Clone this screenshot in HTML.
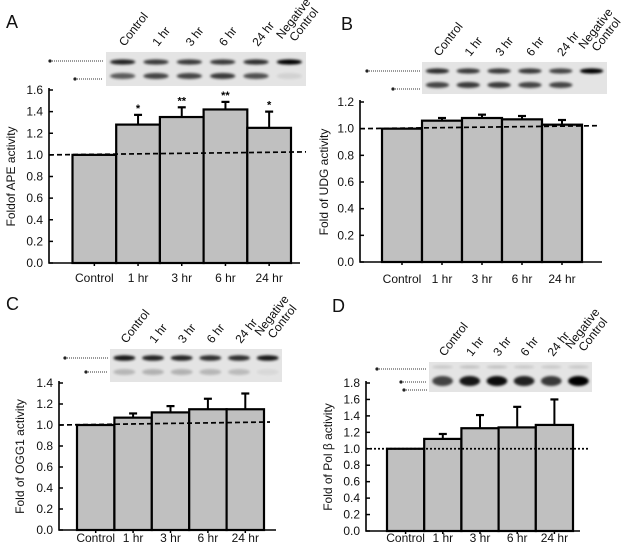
<!DOCTYPE html>
<html><head><meta charset="utf-8"><style>
html,body{margin:0;padding:0;background:#fff}
svg{display:block;font-family:"Liberation Sans",Arial,sans-serif}
</style></head><body>
<svg id="fig" width="628" height="556" viewBox="0 0 628 556">
<defs><filter id="blur" x="-50%" y="-100%" width="200%" height="300%"><feGaussianBlur stdDeviation="1.3"/></filter></defs>
</svg>
<script>
const categories = ["Control","1 hr","3 hr","6 hr","24 hr"];
const laneLabels = ["Control","1 hr","3 hr","6 hr","24 hr","Negative\nControl"];
const apeValues = [1, 1.28, 1.35, 1.42, 1.25];
const apeErrors = [0, 0.09, 0.09, 0.07, 0.15];
const apeStars = ["", "*", "**", "**", "*"];
const udgValues = [1, 1.06, 1.08, 1.07, 1.03];
const udgErrors = [0, 0.02, 0.025, 0.025, 0.035];
const oggValues = [1, 1.07, 1.12, 1.15, 1.15];
const oggErrors = [0, 0.04, 0.06, 0.10, 0.15];
const polValues = [1, 1.12, 1.25, 1.26, 1.29];
const polErrors = [0, 0.06, 0.16, 0.25, 0.31];
const apeTicks = [0,0.2,0.4,0.6,0.8,1.0,1.2,1.4,1.6];
const udgTicks = [0,0.2,0.4,0.6,0.8,1.0,1.2];
const oggTicks = [0,0.2,0.4,0.6,0.8,1.0,1.2,1.4];
const polTicks = [0,0.2,0.4,0.6,0.8,1.0,1.2,1.4,1.6,1.8];

const NS="http://www.w3.org/2000/svg";
const svg=document.getElementById('fig');
function mk(tag,attrs,parent){const e=document.createElementNS(NS,tag);for(const k in attrs)e.setAttribute(k,attrs[k]);(parent||svg).appendChild(e);return e;}

function panel(p){
  const g=mk('g',{});
  
  
  const yMax=p.ticks[p.ticks.length-1];
  const yS=v=>p.y0-(v/yMax)*(p.y0-p.yTop);
  const xS=i=>p.bx0+i*p.bw;
  const L=mk('text',{x:p.lx,y:p.ly,'font-size':18,fill:'#111'},g);L.textContent=p.letter;
  
  
  const gel=mk('g',{},g);
  
  
  mk('rect',{x:p.gx,y:p.gy,width:p.gw,height:p.gh,fill:'#e4e4e4'},gel);
  const lw=p.gw/6;
  for(let i=0;i<6;i++){
    const cx=p.gx+lw*(i+0.5);
    p.bands.forEach(b=>{
      const op=b.op[i];
      if(op>0) mk('ellipse',{cx:cx,cy:p.gy+b.dy,rx:lw*0.38,ry:b.ry,fill:'#000',opacity:op,filter:'url(#blur)'},gel);
    });
    const parts=laneLabels[i].split('\n');
    const t=mk('text',{transform:`translate(${cx+2},${p.gy-5}) rotate(-52)`,'font-size':12,fill:'#111'},g);
    if(parts.length>1){
      const a=mk('tspan',{x:0,dy:-12},t);a.textContent=parts[0];
      const b2=mk('tspan',{x:6,dy:12},t);b2.textContent=parts[1];
    } else t.textContent=parts[0];
    
    
  }
  p.markers.forEach(m=>{
    mk('line',{x1:m.x1,y1:m.y,x2:m.x2,y2:m.y,stroke:'#999','stroke-width':2,'stroke-dasharray':'1 1'},g);
    mk('circle',{cx:m.x1,cy:m.y,r:1.6,fill:'#222'},g);
  });
  p.values.forEach((v,i)=>{
    const x=xS(i),y=yS(v);
    const r=mk('rect',{x:x,y:y,width:p.bw,height:p.y0-y,fill:'#c0c0c0',stroke:'#000','stroke-width':2.2},g);
    
    
    const e=p.errors[i];
    if(e>0){
      const cx=x+p.bw/2,ye=yS(v+e);
      mk('line',{x1:cx,y1:y,x2:cx,y2:ye,stroke:'#000','stroke-width':2},g);
      mk('line',{x1:cx-4,y1:ye,x2:cx+4,y2:ye,stroke:'#000','stroke-width':2.2},g);
      if(p.stars&&p.stars[i]){const s=mk('text',{x:cx,y:ye-3,'font-size':11,'text-anchor':'middle','font-weight':'bold'},g);s.textContent=p.stars[i];
        
        }
    }
    const tl=mk('text',{x:x+p.bw/2,y:p.labY,'font-size':12,'text-anchor':'middle',fill:'#111'},g);tl.textContent=categories[i];
    
    
    mk('line',{x1:x+p.bw/2,y1:p.y0,x2:x+p.bw/2,y2:p.y0+3,stroke:'#000','stroke-width':1.5},g);
  });
  const ax=mk('path',{d:`M${p.ax},${p.yTop-2}V${p.y0}H${p.axEnd}`,fill:'none',stroke:'#000','stroke-width':1.6},g);
  
  
  p.ticks.forEach(t=>{
    const y=yS(t);
    mk('line',{x1:p.ax,y1:y,x2:p.ax+4,y2:y,stroke:'#000','stroke-width':1.5},g);
    const tt=mk('text',{x:p.ax-6,y:y+4,'font-size':12,'text-anchor':'end',fill:'#111'},g);tt.textContent=t.toFixed(1);
    
    
  });
  const dl=mk('line',{x1:p.ax,y1:yS(1),x2:p.dx2,y2:yS(1)-p.dslope,stroke:'#000','stroke-width':1.7,'stroke-dasharray':p.dash},g);
  
  
  const yt=mk('text',{transform:`translate(${p.tx},${(p.y0+p.yTop)/2}) rotate(-90)`,'font-size':12,'text-anchor':'middle',fill:'#111'},g);
  yt.textContent=p.title;
  
  
}

const std=[{dy:10,ry:2.6,op:[0.85,0.75,0.75,0.75,0.8,1]},{dy:24,ry:3,op:[0.6,0.7,0.7,0.75,0.65,0.08]}];
panel({id:'ape',letter:'A',lx:6,ly:28,values:apeValues,errors:apeErrors,stars:apeStars,ticks:apeTicks,
  y0:263,yTop:90,ax:49,axEnd:300,bx0:72.5,bw:43.7,labY:282,gx:106,gy:52,gw:200,gh:34,bands:std,
  markers:[{x1:50,x2:103,y:61},{x1:75,x2:103,y:79}],dx2:306,dslope:3,dash:'5 3',tx:15,title:'Foldof APE activity'});
panel({id:'udg',letter:'B',lx:341,ly:30,values:udgValues,errors:udgErrors,ticks:udgTicks,
  y0:262,yTop:102,ax:360,axEnd:602,bx0:382,bw:40,labY:283,gx:422,gy:62,gw:185,gh:32,
  bands:[{dy:9,ry:2.6,op:[0.8,0.75,0.75,0.75,0.7,1]},{dy:23,ry:3,op:[0.7,0.75,0.75,0.7,0.7,0]}],
  markers:[{x1:367,x2:420,y:71},{x1:393,x2:420,y:89}],dx2:600,dslope:3,dash:'5 3',tx:328,title:'Fold of UDG activity'});
panel({id:'ogg1',letter:'C',lx:6,ly:310,values:oggValues,errors:oggErrors,ticks:oggTicks,
  y0:530,yTop:383,ax:59,axEnd:276,bx0:77,bw:37.4,labY:542,gx:110,gy:349,gw:172,gh:33,
  bands:[{dy:9,ry:2.8,op:[0.9,0.85,0.85,0.8,0.8,0.9]},{dy:23,ry:3,op:[0.2,0.22,0.22,0.2,0.18,0.05]}],
  markers:[{x1:65,x2:108,y:358},{x1:86,x2:108,y:372}],dx2:270,dslope:3,dash:'5 3',tx:24,title:'Fold of OGG1 activity'});
panel({id:'polb',letter:'D',lx:332,ly:312,values:polValues,errors:polErrors,ticks:polTicks,
  y0:531,yTop:383,ax:366,axEnd:580,bx0:387,bw:37.2,labY:542,gx:429,gy:362,gw:163,gh:30,
  bands:[{dy:5,ry:1.6,op:[0.12,0.15,0.15,0.12,0.12,0.12]},{dy:19,ry:5,op:[0.7,0.9,0.95,0.85,0.75,1]}],
  markers:[{x1:377,x2:427,y:369},{x1:401,x2:427,y:382},{x1:404,x2:427,y:390}],dx2:588,dslope:0,dash:'2 2',tx:332,title:'Fold of Pol β activity'});
</script>
</body></html>
